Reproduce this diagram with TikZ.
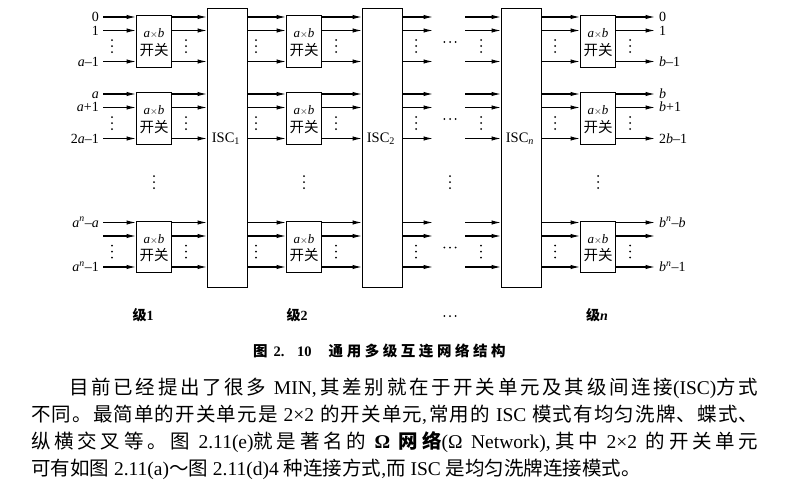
\documentclass[tikz,border=0pt]{standalone}
\usepackage{fontspec}
\setmainfont{Liberation Serif}
\newfontfamily\zhfont{Noto Sans CJK SC}
\usetikzlibrary{arrows.meta}
\newcommand\zh[1]{{\zhfont #1}}

% put \hfil between the characters of a word (spread-out and justified runs)
\makeatletter
\def\spr@a#1{#1\spr@b}
\def\spr@b#1{\ifx#1\@nil\else\hfil#1\expandafter\spr@b\fi}
\newcommand\spreadtext[1]{\spr@a#1\@nil}
\makeatother
\newcommand\zs[1]{{\zhfont\spreadtext{#1}}}
\newcommand\gap{\hskip 0.25em plus 1fil\relax}
\newcommand\cm{,\hskip 1pt plus 1fil\relax}

% a x b switch element: box plus its two text lines
\newcommand\switchbox[2]{%
  \node[sw] (#1) at (#2) {};
  \node[axb] at ([yshift=7.5pt]#1.center) {\textit{a}{\fontsize{10}{10}\selectfont$\times$}\textit{b}};
  \node[kg] at ([yshift=-8.7pt]#1.center) {开关};
}

\begin{document}
\begin{tikzpicture}[x=1pt,y=-1pt,
  sw/.style={draw,line width=1.1pt,minimum width=35pt,minimum height=51.5pt,inner sep=0pt,anchor=north west},
  isc/.style={draw,line width=1.1pt,minimum width=40pt,minimum height=278.5pt,inner sep=0pt,anchor=north west},
  arr/.style={line width=1.1pt,-{Latex[length=9.5pt,width=4.4pt]}},
  axb/.style={inner sep=0pt,font=\fontsize{13}{14}\selectfont},
  kg/.style={inner sep=0pt,font=\zhfont\fontsize{14.5}{15}\selectfont},
  portl/.style={inner sep=0pt,anchor=base east,font=\fontsize{14}{15}\selectfont},
  portr/.style={inner sep=0pt,anchor=base west,font=\fontsize{14}{15}\selectfont},
  isclbl/.style={inner sep=0pt,anchor=base west,font=\fontsize{14.5}{15}\selectfont},
  stage/.style={inner sep=0pt,anchor=base,font=\bfseries\fontsize{14}{15}\selectfont},
  bodyline/.style={inner sep=0pt,anchor=base west,font=\fontsize{19.5}{20}\selectfont},
  vd/.pic={\foreach \k in {-6,0,6} \fill (0,\k) circle (1pt);},
  hd/.pic={\foreach \k in {-5.7,0,5.7} \fill (\k,0) circle (1pt);}
]
\useasboundingbox (0,0) rectangle (792,499);

% switch columns: stage 1, stage 2, stage n
\foreach \g/\t in {1/15,2/92,3/220.5} {
  \switchbox{a\g}{136,\t}
  \switchbox{b\g}{286,\t}
  \switchbox{c\g}{580,\t}
}

% inter-stage connection blocks
\node[isc] (isc1) at (207,8.3) {};
\node[isc] (isc2) at (362,8.3) {};
\node[isc] (iscn) at (501,8.3) {};
\node[isclbl] at ([xshift=4.7pt]isc1.west |- 0,142.5) {ISC\textsubscript{1}};
\node[isclbl] at ([xshift=4.7pt]isc2.west |- 0,142.5) {ISC\textsubscript{2}};
\node[isclbl] at ([xshift=4.7pt]iscn.west |- 0,142.5) {ISC\textsubscript{\textit{n}}};

% links of every group: first, second and last line
\foreach \g/\t in {1/15,2/92,3/220.5} {
  \foreach \r/\d in {0/2,1/15.5,2/46.5} {
    \pgfmathsetmacro\yy{\t+\d}
    \coordinate (i\g\r) at (103,\yy);
    \coordinate (e\g\r) at (433,\yy);
    \coordinate (f\g\r) at (465,\yy);
    \coordinate (o\g\r) at (655,\yy);
    \draw[arr] (i\g\r) -- (a\g.west |- i\g\r);
    \draw[arr] (a\g.east |- i\g\r) -- (isc1.west |- i\g\r);
    \draw[arr] (isc1.east |- i\g\r) -- (b\g.west |- i\g\r);
    \draw[arr] (b\g.east |- i\g\r) -- (isc2.west |- i\g\r);
    \draw[arr] (isc2.east |- i\g\r) -- (e\g\r);
    \draw[arr] (f\g\r) -- (iscn.west |- i\g\r);
    \draw[arr] (iscn.east |- i\g\r) -- (c\g.west |- i\g\r);
    \draw[arr] (c\g.east |- i\g\r) -- (o\g\r);
  }
  % elided lines inside a group
  \foreach \x in {112,186,256,336,416,481,555,630}
    \pic at (\x,\t+31) {vd};
  \pic at (450,\t+27) {hd};
}

% elided groups
\foreach \x in {154,304,450,598}
  \pic at (\x,182) {vd};

% input labels
\node[portl] at (99,21.5) {0};
\node[portl] at (99,35) {1};
\node[portl] at (99,66) {\textit{a}–1};
\node[portl] at (99,98.5) {\textit{a}};
\node[portl] at (99,111.5) {\textit{a}+1};
\node[portl] at (99,143) {2\textit{a}–1};
\node[portl] at (99,227) {\textit{a}\textsuperscript{\textit{n}}–\textit{a}};
\node[portl] at (99,271.5) {\textit{a}\textsuperscript{\textit{n}}–1};

% output labels
\node[portr] at (659,21.5) {0};
\node[portr] at (659,35) {1};
\node[portr] at (659,66) {\textit{b}–1};
\node[portr] at (659,98.5) {\textit{b}};
\node[portr] at (659,111.5) {\textit{b}+1};
\node[portr] at (659,143) {2\textit{b}–1};
\node[portr] at (659,227) {\textit{b}\textsuperscript{\textit{n}}–\textit{b}};
\node[portr] at (659,271.5) {\textit{b}\textsuperscript{\textit{n}}–1};

% stage names
\node[stage] (st1) at (143,320) {\zh{级}1};
\node[stage] (st2) at (297,320) {\zh{级}2};
\pic at (450,316) {hd};
\node[stage] (stn) at (597,320) {\zh{级}\textit{n}};

% caption
\node[inner sep=0pt,anchor=base west,font=\bfseries\fontsize{14.5}{15}\selectfont] (cap) at (253,356)
  {\zh{图}\hspace{6pt}\makebox[38pt][s]{2.\hfil 10}\hspace{17pt}\makebox[177pt][s]{\zs{通用多级互连网络结构}}};

% paragraph, one node per printed line; full lines are justified
\node[bodyline] (p1) at (69,394) {\makebox[689pt][s]{\zs{目前已经提出了很多}\gap MIN\cm\zs{其差别就在于开关单元及其级间连接}(ISC)\zs{方式}}};
\node[bodyline] (p2) at (31,421) {\makebox[727pt][s]{\zs{不同。最简单的开关单元是}\gap 2×2\gap\zs{的开关单元}\cm\zs{常用的}\gap ISC\gap\zs{模式有均匀洗牌、蝶式、}}};
\node[bodyline] (p3) at (31,448) {\makebox[727pt][s]{\zs{纵横交叉等。图}\gap 2.11(e)\zs{就是著名的}\gap\textbf{Ω}\gap{\bfseries\zs{网络}}(Ω\gap Network)\cm\zs{其中}\gap 2×2\gap\zs{的开关单元}}};
\node[bodyline] (p4) at (31,475) {\zh{可有如图} 2.11(a)\zh{～图} 2.11(d)4 \zh{种连接方式},\zh{而} ISC \zh{是均匀洗牌连接模式。}};
\end{tikzpicture}
\end{document}
